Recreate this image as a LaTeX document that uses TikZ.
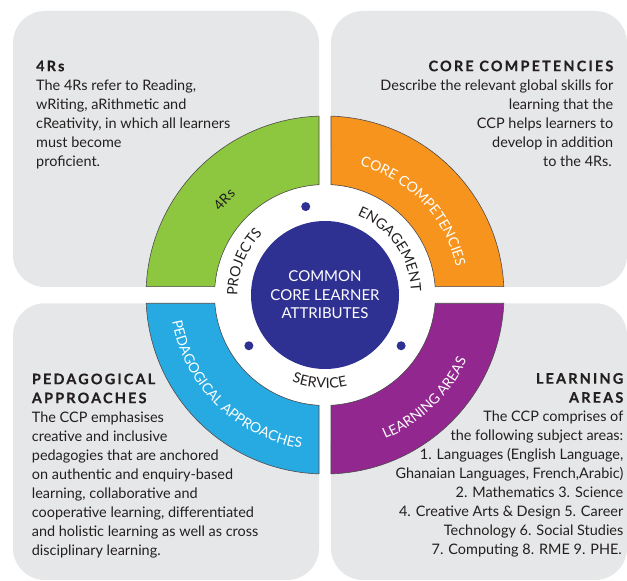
\documentclass[tikz,border=0pt]{standalone}
\usepackage{fontspec}
\setmainfont{Lato}
\newfontfamily\titlefont{Lato}[LetterSpace=15,BoldFeatures={FakeBold=0.4}]
\usetikzlibrary{decorations.text}
\definecolor{boxgrey}{HTML}{E6E7E8}
\definecolor{fourR}{HTML}{8DC63F}
\definecolor{corec}{HTML}{F7941D}
\definecolor{peda}{HTML}{27AAE1}
\definecolor{learn}{HTML}{92278F}
\definecolor{navy}{HTML}{2E3192}
\definecolor{ink}{HTML}{231F20}
\newcommand\bodyfont{\fontsize{14.45}{19}\selectfont}
\newcommand\headtxt[1]{{\titlefont\bfseries #1}}
\newcommand\ringfont{\fontsize{14.3}{16}\selectfont\color{ink}}
\newcommand\bandfont{\fontsize{14}{16}\selectfont\color{white}}
\newcommand\bandinkfont{\fontsize{14}{16}\selectfont\color{ink}}
\def\Ro{179}
\def\Ri{110.5}
\def\gx{6}
\def\gy{8.3}
\begin{document}
\begin{tikzpicture}[x=1pt,y=1pt,
  greybox/.style={fill=boxgrey,rounded corners=32pt},
  band/.style={draw=ink!80,line width=0.6pt},
  infotext/.style={inner sep=0pt,text=ink,font=\bodyfont},
  ringdot/.style={circle,fill=navy,inner sep=0pt,minimum size=9pt},
  curved/.style={decorate,decoration={text along path,text align=center,text={#1}}}]
\useasboundingbox (0,0) rectangle (627,581);
\fill[white] (0,0) rectangle (627,581);
% grey boxes
\path[greybox] (13,294) rectangle (319,570);
\path[greybox] (331,294) rectangle (627,570);
\path[greybox] (13,1) rectangle (319,277.7);
\path[greybox] (331,1) rectangle (627,277.7);
% texts
\node[infotext,anchor=north west,align=left] (t4r) at (36,523.3)
 {\strut\headtxt{4Rs}\\
  The 4Rs refer to Reading,\\
  wRiting, aRithmetic and\\
  cReativity, in which all learners\\
  must become\\
  proficient.};
\node[infotext,anchor=north east,align=right] (tcc) at (613.5,523.3)
 {\strut\headtxt{CORE COMPETENCIES}\\
  Describe the relevant global skills for\hspace*{1.5pt}\\
  learning that the\hspace*{1.5pt}\\
  CCP helps learners to\hspace*{1.5pt}\\
  develop in addition\hspace*{1.5pt}\\
  to the 4Rs.\hspace*{1.5pt}};
\node[infotext,anchor=north west,align=left] (tpa) at (31.7,210.3)
 {\strut\headtxt{PEDAGOGICAL}\\
  \headtxt{APPROACHES}\\
  The CCP emphasises\\
  creative and inclusive\\
  pedagogies that are anchored\\
  on authentic and enquiry-based\\
  learning, collaborative and\\
  cooperative learning, differentiated\\
  and holistic learning as well as cross\\
  disciplinary learning.};
\node[infotext,anchor=north east,align=right] (tla) at (623.5,210.8)
 {\strut\headtxt{LEARNING}\\
  \headtxt{AREAS}\\
  The CCP comprises of\hspace*{1.5pt}\\
  the following subject areas:\hspace*{1.5pt}\\
  1. Languages (English Language,\hspace*{1.5pt}\\
  Ghanaian Languages, French,Arabic)\hspace*{1.5pt}\\
  2. Mathematics 3. Science\hspace*{1.5pt}\\
  4. Creative Arts \& Design 5. Career\hspace*{1.5pt}\\
  Technology 6. Social Studies\hspace*{1.5pt}\\
  7. Computing 8. RME 9. PHE.\hspace*{1.5pt}};
\begin{scope}[shift={(325,286)}]
  \fill[white] (0,0) circle[radius=\Ri];
  % sectors
  \filldraw[band,fill=fourR] ({90+asin(\gx/\Ro)}:\Ro) arc[start angle={90+asin(\gx/\Ro)},end angle={180-asin(\gy/\Ro)},radius=\Ro]
     -- ({180-asin(\gy/\Ri)}:\Ri) arc[start angle={180-asin(\gy/\Ri)},end angle={90+asin(\gx/\Ri)},radius=\Ri] -- cycle;
  \filldraw[band,fill=corec] ({90-asin(\gx/\Ro)}:\Ro) arc[start angle={90-asin(\gx/\Ro)},end angle={asin(\gy/\Ro)},radius=\Ro]
     -- ({asin(\gy/\Ri)}:\Ri) arc[start angle={asin(\gy/\Ri)},end angle={90-asin(\gx/\Ri)},radius=\Ri] -- cycle;
  \filldraw[band,fill=peda] ({180+asin(\gy/\Ro)}:\Ro) arc[start angle={180+asin(\gy/\Ro)},end angle={270-asin(\gx/\Ro)},radius=\Ro]
     -- ({270-asin(\gx/\Ri)}:\Ri) arc[start angle={270-asin(\gx/\Ri)},end angle={180+asin(\gy/\Ri)},radius=\Ri] -- cycle;
  \filldraw[band,fill=learn] ({270+asin(\gx/\Ro)}:\Ro) arc[start angle={270+asin(\gx/\Ro)},end angle={360-asin(\gy/\Ro)},radius=\Ro]
     -- ({360-asin(\gy/\Ri)}:\Ri) arc[start angle={360-asin(\gy/\Ri)},end angle={270+asin(\gx/\Ri)},radius=\Ri] -- cycle;
  % core
  \node[circle,fill=navy,minimum size=148pt,inner sep=0pt,text=white,align=center,
        font=\fontsize{15}{18.5}\selectfont] (core) at (0,0)
        {COMMON\\CORE LEARNER\\ATTRIBUTES};
  \node[ringdot] (d1) at (102.3:90.5) {};
  \node[ringdot] (d2) at (213.7:91.5) {};
  \node[ringdot] (d3) at (326.3:91.5) {};
  % ring labels
  \path[curved={|\ringfont|ENGAGEMENT}] (95:86) arc[start angle=95,end angle=-25,radius=86];
  \path[curved={|\ringfont|PROJECTS}] (218:87.5) arc[start angle=218,end angle=98,radius=87.5];
  \path[curved={|\ringfont|SERVICE}] (206.5:93) arc[start angle=206.5,end angle=326.5,radius=93];
  % band labels
  \path[curved={|\bandfont|CORE COMPETENCIES}] (103.5:134) arc[start angle=103.5,end angle=-16.5,radius=134];
  \path[curved={|\bandinkfont|4Rs}] (166.5:134) arc[start angle=166.5,end angle=106.5,radius=134];
  \path[curved={|\bandfont|PEDAGOGICAL APPROACHES}] (145.5:155) arc[start angle=145.5,end angle=305.5,radius=155];
  \path[curved={|\bandfont|LEARNING AREAS}] (-116:156) arc[start angle=-116,end angle=24,radius=156];
\end{scope}
\end{tikzpicture}
\end{document}
